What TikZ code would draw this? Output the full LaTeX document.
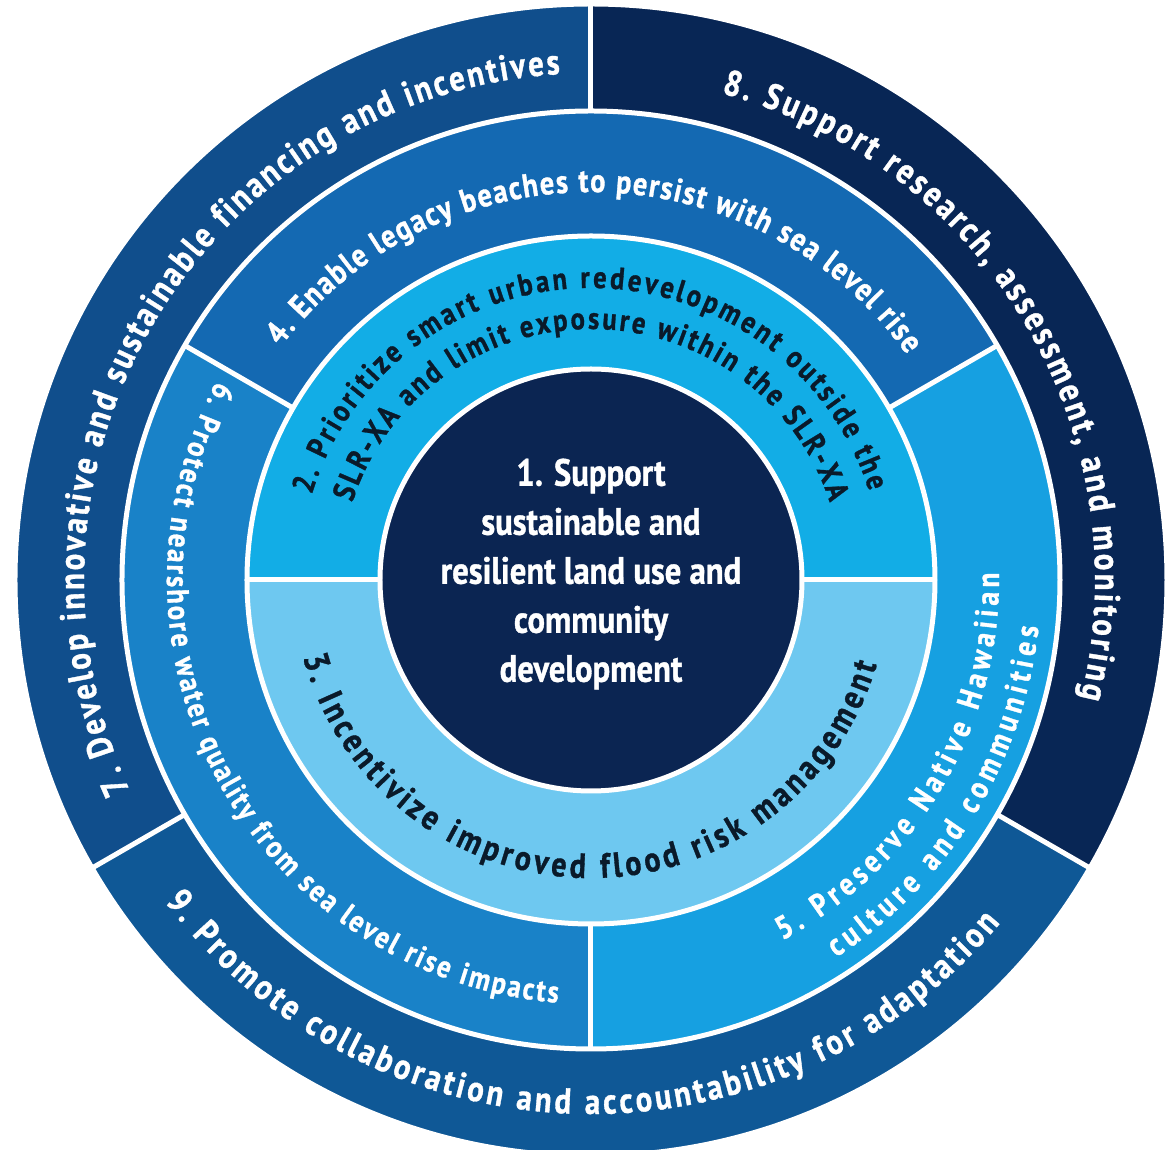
\documentclass[tikz,border=0pt]{standalone}
\usepackage{fontspec}
\setmainfont{PT Sans}[FakeStretch=0.86, BoldFeatures={FakeBold=1}]
\usetikzlibrary{decorations.text}
\definecolor{cOne}{HTML}{0B2552}
\definecolor{cTwo}{HTML}{12ADE6}
\definecolor{cThree}{HTML}{6EC8F0}
\definecolor{cFour}{HTML}{1469B2}
\definecolor{cFive}{HTML}{16A0E1}
\definecolor{cSix}{HTML}{1982C8}
\definecolor{cSeven}{HTML}{104E8C}
\definecolor{cEight}{HTML}{082655}
\definecolor{cNine}{HTML}{0F5896}
\definecolor{darktext}{HTML}{0A1A2A}
\newcommand\annsector[5]{% color, r1, r2, a1, a2
  \fill[#1] (#4:#2) -- (#4:#3) arc[start angle=#4, end angle=#5, radius=#3] -- (#5:#2) arc[start angle=#5, end angle=#4, radius=#2] -- cycle;}
\newcommand\ringtext[6]{% color, size, radius, start, end, text
  \path[decorate, decoration={text along path, text align={fit to path}, text color=#1,
     text={|\fontsize{#2}{#2}\selectfont\bfseries|#6}}]
     (#4:#3) arc[start angle=#4, end angle=#5, radius=#3];}
\tikzset{sep/.style={draw=white, line width=5pt}}
\begin{document}
\begin{tikzpicture}[x=1pt,y=1pt]
\useasboundingbox (-591,-570) rectangle (580,580);
\fill[white] (-591,-570) rectangle (580,580);
% outer ring
\annsector{cSeven}{469}{575}{90}{210}
\annsector{cNine}{469}{575}{210}{330}
\annsector{cEight}{469}{575}{-30}{90}
% middle ring
\annsector{cFour}{344}{469}{30}{150}
\annsector{cSix}{344}{469}{150}{270}
\annsector{cFive}{344}{469}{-90}{30}
% inner ring
\annsector{cTwo}{211}{344}{0}{180}
\annsector{cThree}{211}{344}{180}{360}
% centre
\fill[cOne] (0,0) circle[radius=211];
% separators
\draw[sep] (0,0) circle[radius=211];
\draw[sep] (0,0) circle[radius=344];
\draw[sep] (0,0) circle[radius=469];
\draw[white, line width=3pt] (0,0) circle[radius=575];
\draw[sep] (180:211) -- (180:344);
\draw[sep] (0:211) -- (0:344);
\draw[sep] (30:344) -- (30:469);
\draw[sep] (150:344) -- (150:469);
\draw[sep] (270:344) -- (270:469);
\draw[sep] (90:469) -- (90:580);
\draw[sep] (210:469) -- (210:580);
\draw[sep] (330:469) -- (330:580);
% centre text
\node[text=white, font=\bfseries\fontsize{38}{49}\selectfont, align=center] (one) at (0,6)
  {1. Support\\sustainable and\\resilient land use and\\community\\development};
% ring texts
\ringtext{white}{36}{507}{204.5}{93.5}{7. Develop innovative and sustainable financing and incentives}
\ringtext{white}{36}{504}{75}{-13.5}{8. Support research, assessment, and monitoring}
\ringtext{white}{36}{534}{217}{320}{9. Promote collaboration and accountability for adaptation}
\ringtext{white}{33}{388}{143}{35.5}{4. Enable legacy beaches to persist with sea level rise}
\ringtext{white}{32}{408}{-62}{1}{5. Preserve Native Hawaiian}
\ringtext{white}{32}{450}{-57}{-6}{culture and communities}
\ringtext{white}{31}{424}{152}{265.5}{6. Protect nearshore water quality from sea level rise impacts}
\ringtext{darktext}{31}{292}{163}{17.7}{2. Prioritize smart urban redevelopment outside the}
\ringtext{darktext}{31}{251}{162}{18}{SLR-XA and limit exposure within the SLR-XA}
\ringtext{darktext}{35}{298}{195}{343.5}{3. Incentivize improved flood risk management}
\end{tikzpicture}
\end{document}
